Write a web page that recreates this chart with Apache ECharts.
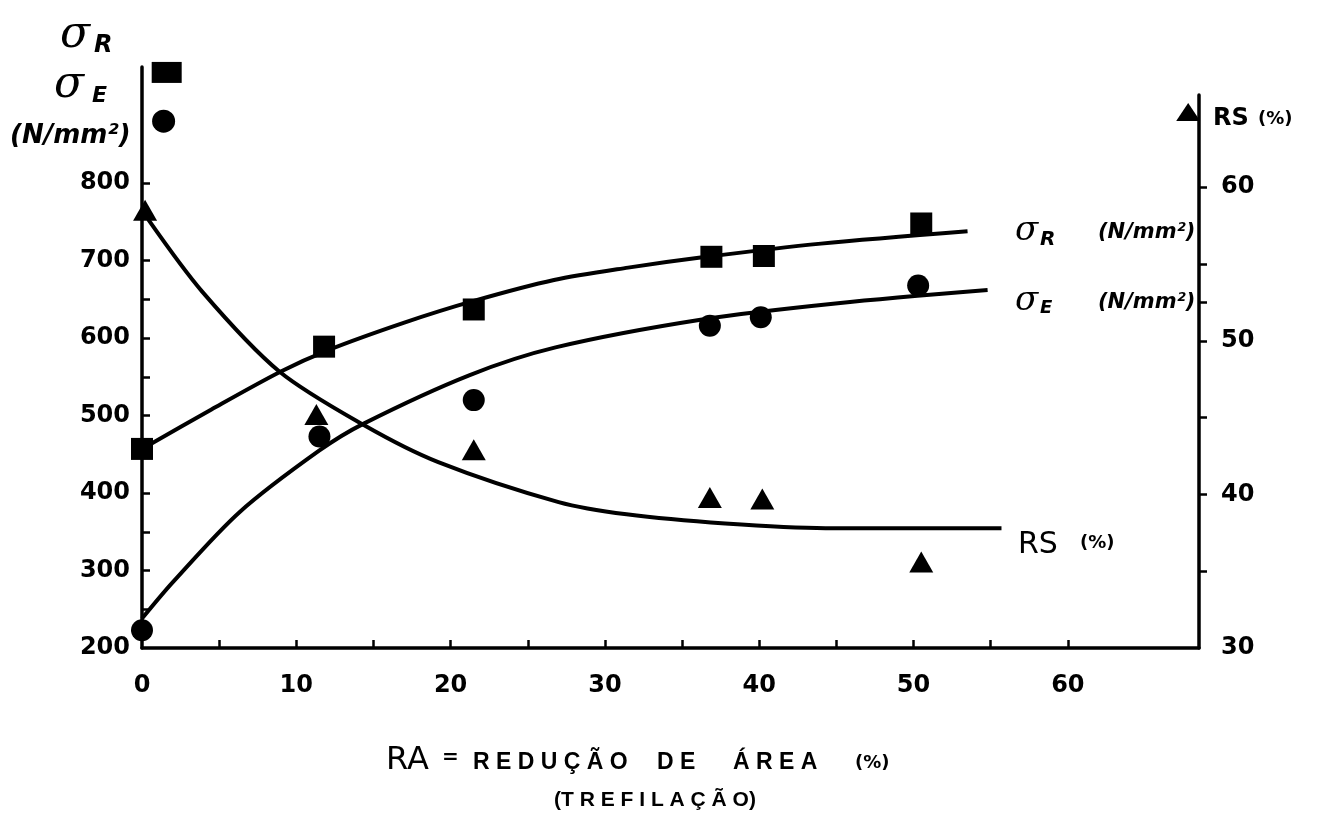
<!DOCTYPE html>
<html>
<head>
<meta charset="utf-8">
<script src="https://cdn.jsdelivr.net/npm/echarts@6/dist/echarts.min.js"></script>
<style>
  html, body { margin: 0; background: #fff; }
  #chart { width: 1319px; height: 817px; }
</style>
</head>
<body>
<div id="chart"></div>
<script>
  // RA = reducao de area (%)
  const raR = [0, 11.8, 21.5, 36.9, 40.3, 50.5]
  const sigmaR = [457, 589, 637, 705, 706, 748]
  const raE = [0, 11.5, 21.5, 36.8, 40.1, 50.3]
  const sigmaE = [223, 473, 520, 616, 627, 668]
  const raRS = [0.2, 11.3, 21.5, 36.8, 40.2, 50.5]
  const rsVals = [58.5, 45.2, 42.9, 39.8, 39.7, 35.6]

  // hand drawn fitted curves
  const curveRX = [0, 4.5, 9, 12, 17, 21.5, 26.7, 31.5, 36.2, 44, 53.5]
  const curveRY = [457, 508, 557, 584, 620, 648, 675, 691, 704, 722, 738]
  const curveEX = [0, 2, 6.3, 11.5, 14.4, 21.2, 26.8, 36.3, 45.1, 54.8]
  const curveEY = [238, 285, 375, 455, 490, 552, 588, 624, 645, 662]
  const curveRSX = [0.4, 3.9, 8.9, 14.4, 19.2, 27, 31.4, 37.8, 44.3, 55.7]
  const curveRSY = [57.9, 53.2, 48.0, 44.5, 42.1, 39.5, 38.7, 38.1, 37.8, 37.8]

  // symbol keys drawn on the axes
  const keySquare = [1.6, 943]
  const keyCircle = [1.4, 880]
  const keyTriangle = [67.8, 64.9]

  // ticks and labels
  const xTicks = [5, 10, 15, 20, 25, 30, 35, 40, 45, 50, 55, 60]
  const xLabels = [0, 10, 20, 30, 40, 50, 60]
  const leftTicks = [250, 300, 350, 400, 450, 500, 550, 600, 650, 700, 800]
  const leftLabels = [200, 300, 400, 500, 600, 700, 800]
  const rightTicks = [35, 40, 45, 50, 52.5, 55, 60]
  const rightLabels = [30, 40, 50, 60]

  const zip = (xs, ys) => xs.map((x, i) => [x, ys[i]])
  const ink = '#000'
  const numFont = { color: ink, fontSize: 24, fontWeight: 'bold', fontFamily: 'DejaVu Sans' }
  const curveStyle = { color: ink, width: 4 }
  const markStyle = { color: ink, opacity: 1 }

  const txt = (text, x, y, font, align) => ({
    type: 'text',
    style: {
      text, x, y, font, fill: ink,
      textAlign: align || 'left', align: align || 'left',
      textVerticalAlign: 'middle', verticalAlign: 'middle',
    },
  })

  const chart = echarts.init(document.getElementById('chart'))
  chart.setOption({
    animation: false,
    backgroundColor: '#fff',
    grid: [
      { left: 142, right: 120, top: 67, bottom: 169 },
      { left: 142, right: 120, top: 95, bottom: 169 },
    ],
    xAxis: [
      {
        gridIndex: 0, type: 'value', min: 0, max: 68.5,
        axisLine: { onZero: false, lineStyle: { color: ink, width: 3.5 } },
        axisTick: { inside: true, length: 8, customValues: xTicks, lineStyle: { color: ink, width: 2.5 } },
        axisLabel: Object.assign({ customValues: xLabels, margin: 26 }, numFont),
        splitLine: { show: false },
      },
      { gridIndex: 1, type: 'value', min: 0, max: 68.5, show: false },
    ],
    yAxis: [
      {
        gridIndex: 0, type: 'value', min: 200, max: 950, position: 'left',
        axisLine: { show: true, onZero: false, lineStyle: { color: ink, width: 3.5 } },
        axisTick: { show: true, inside: true, length: 8, customValues: leftTicks, lineStyle: { color: ink, width: 2.5 } },
        axisLabel: Object.assign({ customValues: leftLabels, margin: 12 }, numFont),
        splitLine: { show: false },
      },
      {
        gridIndex: 1, type: 'value', min: 30, max: 66, position: 'right',
        axisLine: { show: true, onZero: false, lineStyle: { color: ink, width: 3.5 } },
        axisTick: { show: true, inside: false, length: 8, customValues: rightTicks, lineStyle: { color: ink, width: 2.5 } },
        axisLabel: Object.assign({ customValues: rightLabels, margin: 22 }, numFont),
        splitLine: { show: false },
      },
    ],
    series: [
      {
        name: 'σR curve', type: 'line', xAxisIndex: 0, yAxisIndex: 0,
        data: zip(curveRX, curveRY), smooth: 0.3, showSymbol: false,
        lineStyle: curveStyle,
      },
      {
        name: 'σE curve', type: 'line', xAxisIndex: 0, yAxisIndex: 0,
        data: zip(curveEX, curveEY), smooth: 0.3, showSymbol: false,
        lineStyle: curveStyle,
      },
      {
        name: 'RS curve', type: 'line', xAxisIndex: 1, yAxisIndex: 1,
        data: zip(curveRSX, curveRSY), smooth: 0.3, showSymbol: false,
        lineStyle: curveStyle,
      },
      {
        name: 'σR', type: 'scatter', xAxisIndex: 0, yAxisIndex: 0,
        data: zip(raR, sigmaR), symbol: 'rect', symbolSize: 22,
        itemStyle: markStyle,
      },
      {
        name: 'σE', type: 'scatter', xAxisIndex: 0, yAxisIndex: 0,
        data: zip(raE, sigmaE), symbol: 'circle', symbolSize: 22,
        itemStyle: markStyle,
      },
      {
        name: 'RS', type: 'scatter', xAxisIndex: 1, yAxisIndex: 1,
        data: zip(raRS, rsVals), symbol: 'triangle', symbolSize: [24, 21],
        itemStyle: markStyle,
      },
      {
        name: 'keys', type: 'scatter', xAxisIndex: 0, yAxisIndex: 0, clip: false,
        data: [
          { value: keySquare, symbol: 'rect', symbolSize: [30, 21] },
          { value: keyCircle, symbol: 'circle', symbolSize: 23 },
        ],
        itemStyle: markStyle,
      },
      {
        name: 'key RS', type: 'scatter', xAxisIndex: 1, yAxisIndex: 1, clip: false,
        data: [keyTriangle], symbol: 'triangle', symbolSize: [24, 18],
        itemStyle: markStyle,
      },
    ],
    graphic: [
      // left axis title
      txt('σ', 60, 36, 'italic 44px "DejaVu Serif"'),
      txt('R', 94, 46, 'italic bold 24px "DejaVu Sans"'),
      txt('σ', 54, 86, 'italic 44px "DejaVu Serif"'),
      txt('E', 92, 96, 'italic bold 22px "DejaVu Sans"'),
      txt('(N/mm²)', 10, 136, 'italic bold 26px "DejaVu Sans"'),
      // right axis title
      txt('RS', 1213, 119, 'bold 24px "DejaVu Sans"'),
      txt('(%)', 1258, 119, 'bold 18px "DejaVu Sans"'),
      // curve labels
      txt('σ', 1015, 231, 'italic 34px "DejaVu Serif"'),
      txt('R', 1040, 240, 'italic bold 20px "DejaVu Sans"'),
      txt('(N/mm²)', 1098, 233, 'italic bold 21px "DejaVu Sans"'),
      txt('σ', 1015, 301, 'italic 34px "DejaVu Serif"'),
      txt('E', 1040, 308, 'italic bold 18px "DejaVu Sans"'),
      txt('(N/mm²)', 1098, 303, 'italic bold 21px "DejaVu Sans"'),
      txt('RS', 1018, 545, '30px "DejaVu Sans"'),
      txt('(%)', 1080, 543, 'bold 18px "DejaVu Sans"'),
      // x axis title
      txt('RA', 386, 761, '32px "DejaVu Sans"'),
      txt('=', 442, 758, 'bold 20px "DejaVu Sans"'),
      txt('R E D U Ç Ã O', 473, 763, 'bold 23px "Liberation Sans"'),
      txt('D E', 657, 763, 'bold 23px "Liberation Sans"'),
      txt('Á R E A', 733, 763, 'bold 23px "Liberation Sans"'),
      txt('(%)', 855, 763, 'bold 18px "DejaVu Sans"'),
      txt('(T R E F I L A Ç Ã O)', 655, 800, 'bold 21px "Liberation Sans"', 'center'),
    ],
  })
</script>
</body>
</html>
